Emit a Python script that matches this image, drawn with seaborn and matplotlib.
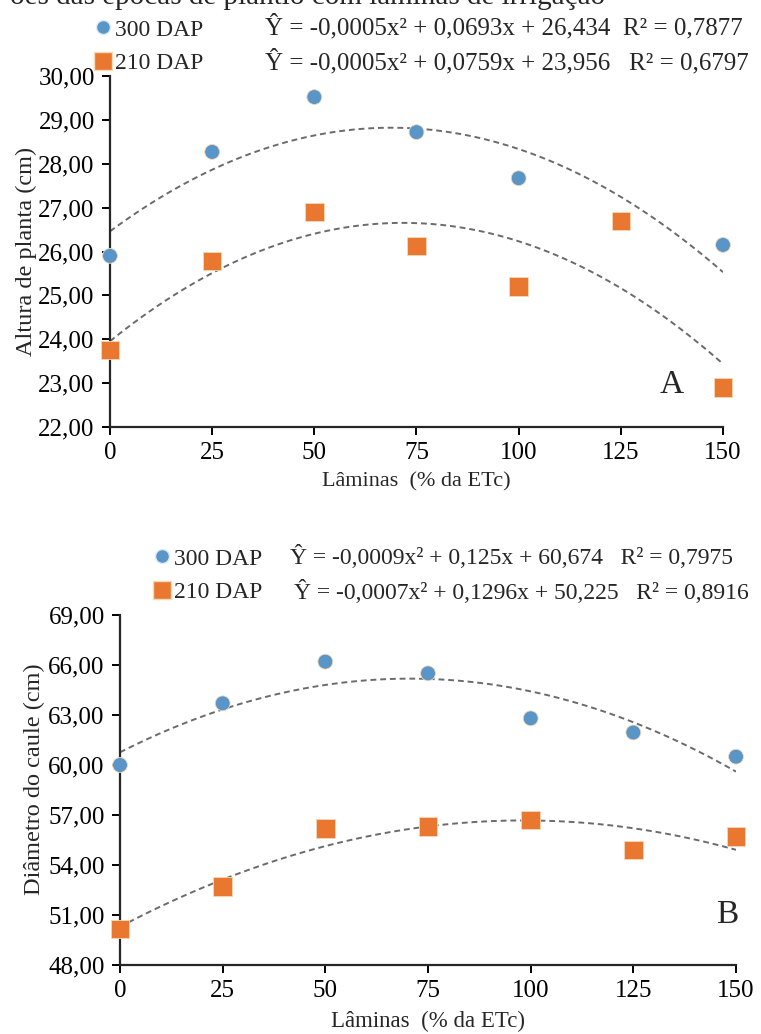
import matplotlib
matplotlib.use("Agg")
import matplotlib.pyplot as plt
from matplotlib.lines import Line2D
from matplotlib.ticker import FuncFormatter, MultipleLocator
import pandas as pd
import seaborn as sns

# irrigation depths (% ETc)
laminas = [0, 25, 50, 75, 100, 125, 150]

# A - plant height (cm)
altura_300 = [25.90, 28.27, 29.52, 28.72, 27.67, 26.65, 26.15]
altura_210 = [23.75, 25.78, 26.90, 26.12, 25.20, 26.70, 22.90]
eq_altura_300 = "Ŷ = -0,0005x² + 0,0693x + 26,434  R² = 0,7877"
eq_altura_210 = "Ŷ = -0,0005x² + 0,0759x + 23,956   R² = 0,6797"

# B - stem diameter
diam_300 = [60.00, 63.70, 66.20, 65.50, 62.80, 61.95, 60.50]
diam_210 = [50.15, 52.70, 56.20, 56.30, 56.70, 54.90, 55.70]
eq_diam_300 = "Ŷ = -0,0009x² + 0,125x + 60,674   R² = 0,7975"
eq_diam_210 = "Ŷ = -0,0007x² + 0,1296x + 50,225   R² = 0,8916"

series = ["300 DAP", "210 DAP"]
x_ticks = [0, 25, 50, 75, 100, 125, 150]

BLUE = "#5a95c8"
ORANGE = "#e9772f"
TREND = "#6b6b6b"

sns.set_style("ticks")
plt.rcParams["font.family"] = ["Liberation Serif", "DejaVu Serif"]
plt.rcParams["axes.linewidth"] = 1.6

W, H = 761, 1034
fig = plt.figure(figsize=(W / 100, H / 100), dpi=100)


def px_axes(left, top, right, bottom):
    return fig.add_axes([left / W, 1 - bottom / H, (right - left) / W, (bottom - top) / H])


def comma_fmt(v, pos):
    return f"{v:.2f}".replace(".", ",")


def draw_panel(ax, y300, y210, ylo, yhi, ystep, ylabel, letter, letter_xy, xlab_size):
    df = pd.DataFrame({
        "lamina": laminas * 2,
        "valor": y300 + y210,
        "serie": [series[0]] * len(laminas) + [series[1]] * len(laminas),
    })
    for s in series:
        sub = df[df["serie"] == s]
        sns.regplot(data=sub, x="lamina", y="valor", order=2, ci=None, scatter=False,
                    truncate=True, ax=ax,
                    line_kws=dict(color=TREND, ls=(0, (3, 2)), lw=1.4))
    sns.scatterplot(data=df, x="lamina", y="valor", hue="serie", style="serie",
                    palette=[BLUE, ORANGE], markers=["o", "s"], hue_order=series,
                    style_order=series, s=110, linewidth=0.6, edgecolor="#f5d9b8",
                    clip_on=False, zorder=5, ax=ax, legend=False)
    # bigger squares for 210 DAP
    ax.collections[-1].set_sizes([115] * len(laminas) + [175] * len(laminas))

    ax.set_xlim(0, 150)
    ax.set_ylim(ylo, yhi)
    ax.set_xticks(x_ticks)
    ax.yaxis.set_major_locator(MultipleLocator(ystep))
    ax.yaxis.set_major_formatter(FuncFormatter(comma_fmt))
    ax.tick_params(axis="both", direction="out", length=6, width=1.4,
                   labelsize=18, colors="black", pad=5)
    sns.despine(ax=ax)
    ax.set_xlabel("Lâminas  (% da ETc)", fontsize=xlab_size, labelpad=6)
    ax.set_ylabel(ylabel, fontsize=17.5)
    ax.text(letter_xy[0], letter_xy[1], letter,
            transform=ax.transAxes, fontsize=24, ha="center", va="center")


ax1 = px_axes(110, 76, 723, 427)
draw_panel(ax1, altura_300, altura_210, 22, 30, 1, "Altura de planta (cm)", "A",
           (0.917, 0.12), 16)
ax1.yaxis.set_label_coords(-0.119, 0.5)

ax2 = px_axes(120, 615, 736, 965)
draw_panel(ax2, diam_300, diam_210, 48, 69, 3, "Diâmetro do caule (cm)", "B",
           (0.985, 0.143), 16.5)
ax2.yaxis.set_label_coords(-0.122, 0.531)

# legends and equations
handles = [Line2D([], [], ls="", marker="o", ms=10, color=BLUE, mec="#dbe8f5"),
           Line2D([], [], ls="", marker="s", ms=12.5, color=ORANGE, mec="#f5d9b8")]
for lx, ly in [(91, 19), (150, 548)]:
    fig.legend(handles, series, loc="upper left",
               bbox_to_anchor=(lx / W, 1 - ly / H), frameon=False, fontsize=17,
               handletextpad=0.0, handlelength=1.0, labelspacing=0.5,
               borderaxespad=0, borderpad=0)

fig.text(265 / W, 1 - 27 / H, eq_altura_300, fontsize=18, va="center")
fig.text(265 / W, 1 - 62 / H, eq_altura_210, fontsize=18, va="center")
fig.text(290 / W, 1 - 557 / H, eq_diam_300, fontsize=17, va="center")
fig.text(294 / W, 1 - 592 / H, eq_diam_210, fontsize=17, va="center")

# caption line cut off at the top of the source image
fig.text(10 / W, 1 - 4 / H, "ões das épocas de plantio com lâminas de irrigação",
         fontsize=21, va="baseline", ha="left")

fig.savefig("out.png", dpi=100)
